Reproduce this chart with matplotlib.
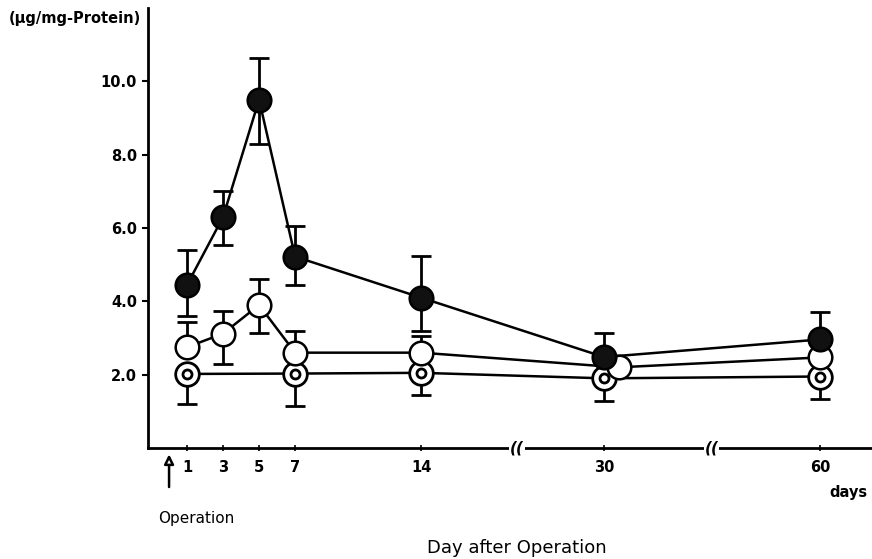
import numpy as np
import matplotlib
matplotlib.use("Agg")
import matplotlib.pyplot as plt

# days after operation
days = [1, 3, 5, 7, 14, 30, 60]
filled = [4.45, 6.3, 9.5, 5.22, 4.1, 2.48, 2.96]
filled_hi = [5.4, 7.0, 10.65, 6.05, 5.25, 3.15, 3.7]
filled_lo = [3.6, 5.55, 8.3, 4.45, 3.2, 2.48, 2.96]

open_days = [1, 3, 5, 7, 14, 32, 60]   # 30-day point drawn slightly shifted as in the original
open_vals = [2.75, 3.12, 3.9, 2.6, 2.6, 2.2, 2.47]
open_hi = [3.45, 3.75, 4.6, 3.2, 3.05, 2.2, 2.47]
open_lo = [2.75, 2.3, 3.15, 2.6, 2.6, 2.2, 2.47]

dot_days = [1, 7, 14, 30, 60]
dot_vals = [2.02, 2.03, 2.05, 1.9, 1.95]
dot_lo = [1.2, 1.15, 1.45, 1.27, 1.33]

tick_days = [1, 3, 5, 7, 14, 30, 60]
ytick_vals = [2.0, 4.0, 6.0, 8.0, 10.0]

# broken x axis: piecewise linear scale
_d = np.array([-20, 0, 14, 30, 60, 200])
_p = np.array([169 - 360, 169, 421, 604, 820, 820 + 140 * 7.2])


def fwd(x):
    return np.interp(x, _d, _p)


def inv(x):
    return np.interp(x, _p, _d)


plt.rcParams['font.family'] = ['DejaVu Sans']
fig = plt.figure(figsize=(8.72, 5.59), dpi=100)
ax = fig.add_axes([148 / 872, 111 / 559, 1 - 148 / 872, 440 / 559])
ax.set_xscale('function', functions=(fwd, inv))
ax.set_xlim(-1.17, 67.2)
ax.set_ylim(0, 12)

for s in ['top', 'right']:
    ax.spines[s].set_visible(False)
for s in ['left', 'bottom']:
    ax.spines[s].set_linewidth(2)

ms = 17


def errs(v, hi, lo):
    v = np.array(v)
    return [v - np.array(lo), np.array(hi) - v]


ax.errorbar(days, filled, yerr=errs(filled, filled_hi, filled_lo), fmt='none',
            ecolor='k', elinewidth=2, capsize=7, capthick=2, zorder=2)
ax.errorbar(open_days, open_vals, yerr=errs(open_vals, open_hi, open_lo), fmt='none',
            ecolor='k', elinewidth=2, capsize=7, capthick=2, zorder=2)
ax.errorbar(dot_days, dot_vals, yerr=errs(dot_vals, dot_vals, dot_lo), fmt='none',
            ecolor='k', elinewidth=2, capsize=7, capthick=2, zorder=2)

ax.plot(dot_days, dot_vals, '-', color='k', lw=1.8, zorder=3)
ax.plot(dot_days, dot_vals, 'o', ms=ms, mfc='white', mec='k', mew=2, zorder=4)
ax.plot(dot_days, dot_vals, 'o', ms=6.5, mfc='white', mec='k', mew=2, zorder=4)
ax.plot(open_days, open_vals, '-o', color='k', lw=1.8, ms=ms, mfc='white', mec='k', mew=1.8, zorder=5)
ax.plot(days, filled, '-o', color='k', lw=1.8, ms=ms, mfc='#111111', mec='k', mew=1.8, zorder=6)

ax.set_xticks(tick_days)
ax.set_xticklabels([str(d) for d in tick_days], fontsize=10.5, fontweight='bold')
ax.set_yticks(ytick_vals)
ax.set_yticklabels(['%.1f' % v for v in ytick_vals], fontsize=10.5, fontweight='bold')
ax.tick_params(axis='x', direction='inout', length=5, width=1.2, pad=6)
ax.tick_params(axis='y', direction='out', length=4, width=1.5, pad=4)

# axis break marks
for bx in [22.4, 44.9]:
    ax.text(bx, 0, '((', ha='center', va='center', fontsize=11, fontweight='bold',
            fontstyle='italic', clip_on=False, zorder=7,
            bbox=dict(boxstyle='square,pad=0.05', fc='white', ec='none'))

ax.annotate('', xy=(0, -0.008), xytext=(0, -0.095), xycoords=('data', 'axes fraction'),
            arrowprops=dict(arrowstyle='-|>', lw=1.8, color='k', fc='white', mutation_scale=14),
            annotation_clip=False)

fig.text(196 / 872, 1 - 518 / 559, 'Operation', ha='center', va='center', fontsize=11)
fig.text(848 / 872, 1 - 493 / 559, 'days', ha='center', va='center', fontsize=10.5, fontweight='bold')
fig.text(517 / 872, 1 - 548 / 559, 'Day after Operation', ha='center', va='center', fontsize=13,
         fontweight='medium')
fig.text(75 / 872, 1 - 18 / 559, '(μg/mg-Protein)', ha='center', va='center', fontsize=10.5,
         fontweight='bold')

fig.savefig('out.png', dpi=100)
